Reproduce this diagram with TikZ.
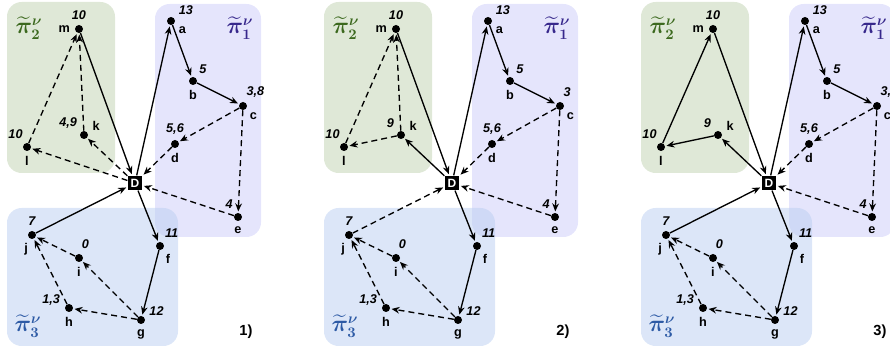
\documentclass[tikz,border=0pt]{standalone}
\usepackage{fontspec}
\usepackage{amsmath}
\usepackage{bm}
\setmainfont{Liberation Sans}
\usetikzlibrary{arrows.meta}

\definecolor{grpbox}{RGB}{223,232,215}
\definecolor{purbase}{RGB}{203,203,249}
\definecolor{blubase}{RGB}{185,205,241}
\definecolor{grptext}{RGB}{60,105,30}
\definecolor{purtext}{RGB}{55,40,140}
\definecolor{blutext}{RGB}{45,90,165}

\tikzset{%
    vert/.style={circle,fill=black,inner sep=0pt,minimum size=6pt},
    depot/.style={rectangle,fill=black,text=white,inner sep=0pt,minimum size=11pt,font=\fontsize{9}{9}\selectfont\bfseries},
    num/.style={font=\fontsize{9.5}{10}\selectfont\bfseries\itshape,inner sep=1pt},
    vname/.style={font=\fontsize{9.5}{10}\selectfont\bfseries,inner sep=1pt},
    route/.style={-{Stealth[length=6pt,width=5pt]},line width=1pt,shorten >=1pt},
    guess/.style={route,dash pattern=on 4.5pt off 3pt},
    clusterbox/.style={rounded corners=11pt},
    plabel/.style={font=\fontsize{16}{16}\selectfont,inner sep=0pt},
    tag/.style={font=\fontsize{11}{11}\selectfont\bfseries},
    label distance=2.5pt,
}

% one panel: #1 shift (px), #2 suffix, #3 label of k, #4 label of c, #5 panel tag
\newcommand{\drawpanel}[5]{%
  \begin{scope}[xshift=#1*0.75pt]
    % clusters
    \fill[grpbox,clusterbox] (7,2) rectangle (115,173);
    \fill[purbase,fill opacity=0.5,clusterbox] (155,4) rectangle (261,237);
    \fill[blubase,fill opacity=0.5,clusterbox] (7,208) rectangle (178,346);
    \node[plabel,text=grptext] (pg#2) at (29,28) {$\widetilde{\bm{\pi}}^{\bm{\nu}}_{\bm{2}}$};
    \node[plabel,text=purtext] (pp#2) at (240,28) {$\widetilde{\bm{\pi}}^{\bm{\nu}}_{\bm{1}}$};
    \node[plabel,text=blutext] (pb#2) at (28,326) {$\widetilde{\bm{\pi}}^{\bm{\nu}}_{\bm{3}}$};
    \node[tag] (tag#2) at (246,332) {#5};
    % vertices
    \node[depot] (D#2) at (135,183) {D};
    \node[vert,label={[num]above:10},label={[vname]left:m}] (m#2) at (79,29) {};
    \node[vert,label={[num]35:13},label={[vname]-35:a}] (a#2) at (171,21) {};
    \node[vert,label={[num]50:5},label={[vname]below:b}] (b#2) at (193,81) {};
    \node[vert,label={[num]75:{#4}},label={[vname]-45:c}] (c#2) at (243,106) {};
    \node[vert,label={[num]above:{5,6}},label={[vname]below:d}] (d#2) at (175,144) {};
    \node[vert,label={[num]135:{#3}},label={[vname]20:k}] (k#2) at (84,135) {};
    \node[vert,label={[num]112:10},label={[vname]below:l}] (l#2) at (27,147) {};
    \node[vert,label={[num]120:4},label={[vname]below:e}] (e#2) at (238,217) {};
    \node[vert,label={[num]63:11},label={[vname]-55:f}] (f#2) at (160,246) {};
    \node[vert,label={[num]above:7},label={[vname]-110:j}] (j#2) at (32,235) {};
    \node[vert,label={[num]80:0},label={[vname]below:i}] (i#2) at (79,258) {};
    \node[vert,label={[num]170:{1,3}},label={[vname]below:h}] (h#2) at (69,308) {};
    \node[vert,label={[num]25:12},label={[vname]below:g}] (g#2) at (141,320) {};
    % common routes
    \draw[route] (D#2) -- (a#2);
    \draw[route] (a#2) -- (b#2);
    \draw[route] (b#2) -- (c#2);
    \draw[guess] (c#2) -- (d#2);
    \draw[guess] (d#2) -- (D#2);
    \draw[guess] (c#2) -- (e#2);
    \draw[guess] (e#2) -- (D#2);
    \draw[route] (m#2) -- (D#2);
    \draw[route] (D#2) -- (f#2);
    \draw[route] (f#2) -- (g#2);
    \draw[guess] (g#2) -- (h#2);
    \draw[guess] (g#2) -- (i#2);
    \draw[guess] (h#2) -- (j#2);
    \draw[guess] (i#2) -- (j#2);
  \end{scope}
}

\begin{document}
\begin{tikzpicture}[x=0.75pt,y=-0.75pt]
  \useasboundingbox (0,0) rectangle (890,352);

  \drawpanel{0}{1}{4,9}{3,8}{1)}
  \draw[guess] (D1) -- (k1);
  \draw[guess] (D1) -- (l1);
  \draw[guess] (l1) -- (m1);
  \draw[guess] (k1) -- (m1);
  \draw[route] (j1) -- (D1);

  \drawpanel{317}{2}{9}{3}{2)}
  \draw[route] (D2) -- (k2);
  \draw[guess] (k2) -- (l2);
  \draw[guess] (l2) -- (m2);
  \draw[guess] (k2) -- (m2);
  \draw[guess] (j2) -- (D2);

  \drawpanel{634}{3}{9}{3,8}{3)}
  \draw[route] (D3) -- (k3);
  \draw[route] (k3) -- (l3);
  \draw[route] (l3) -- (m3);
  \draw[route] (j3) -- (D3);
\end{tikzpicture}
\end{document}
